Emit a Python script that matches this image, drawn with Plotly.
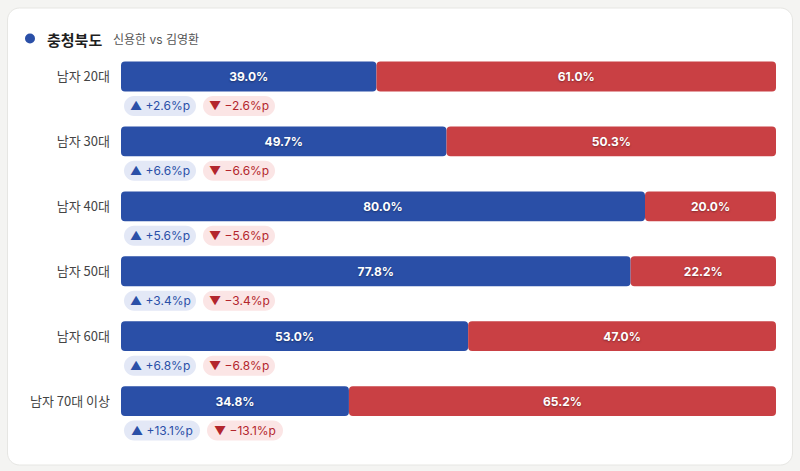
import plotly.graph_objects as go

categories = ["남자 20대", "남자 30대", "남자 40대", "남자 50대", "남자 60대", "남자 70대 이상"]
shin_values = [39.0, 49.7, 80.0, 77.8, 53.0, 34.8]
kim_values = [61.0, 50.3, 20.0, 22.2, 47.0, 65.2]
deltas = [2.6, 6.6, 5.6, 3.4, 6.8, 13.1]
title_text = "충청북도"
subtitle_text = "신용한 vs 김영환"

BLUE = "#2a4fa7"
RED = "#c94044"
FONT = "Inter, 'Noto Sans CJK KR'"
KFONT = "Noto Sans CJK KR"

W, H = 800, 471
L, R = 121, 776
ROW = 65.0
TOP = 76 - ROW / 2          # pixel of y = -0.5
YMAX = 6.0                  # extend range below last row so badges are not clipped
BOT = TOP + (YMAX + 0.5) * ROW

def px_x(p):
    return (p - L) / (R - L)

def px_y(p):
    return (BOT - p) / (BOT - TOP)

ys = list(range(len(categories)))

fig = go.Figure()
fig.add_trace(go.Bar(
    y=ys, x=[-v for v in shin_values], base=shin_values, orientation="h",
    width=0.46, marker=dict(color=BLUE, cornerradius=4, line=dict(width=0)),
    text=[f"{v:.1f}%" for v in shin_values], textposition="inside",
    insidetextanchor="middle",
    textfont=dict(color="white", size=12, family=FONT, weight="bold",
                  shadow="0px 1px 2px rgba(0,0,0,0.35)"),
    hoverinfo="skip", showlegend=False,
))
fig.add_trace(go.Bar(
    y=ys, x=kim_values, base=shin_values, orientation="h",
    width=0.46, marker=dict(color=RED, cornerradius=4, line=dict(width=0)),
    text=[f"{v:.1f}%" for v in kim_values], textposition="inside",
    insidetextanchor="middle",
    textfont=dict(color="white", size=12, family=FONT, weight="bold",
                  shadow="0px 1px 2px rgba(0,0,0,0.35)"),
    hoverinfo="skip", showlegend=False,
))

shapes = []
annotations = []

k = 0.5523
def rounded_rect(x0, x1, y0, y1, r):
    # y up positive; y0 bottom, y1 top
    return (f"M {x0+r},{y1} L {x1-r},{y1} "
            f"C {x1-r+k*r},{y1} {x1},{y1-r+k*r} {x1},{y1-r} "
            f"L {x1},{y0+r} "
            f"C {x1},{y0+r-k*r} {x1-r+k*r},{y0} {x1-r},{y0} "
            f"L {x0+r},{y0} "
            f"C {x0+r-k*r},{y0} {x0},{y0+r-k*r} {x0},{y0+r} "
            f"L {x0},{y1-r} "
            f"C {x0},{y1-r+k*r} {x0+r-k*r},{y1} {x0+r},{y1} Z")

# card background
shapes.append(dict(
    type="path", xref="paper", yref="paper", xsizemode="pixel", ysizemode="pixel",
    xanchor=0, yanchor=1,
    path=rounded_rect(7.5 - L, 792.5 - L, -(464.5 - TOP), TOP - 7.5, 12),
    fillcolor="white", line=dict(color="#e6e6e3", width=1), layer="below",
))

# title dot
shapes.append(dict(
    type="circle", xref="paper", yref="paper", xsizemode="pixel", ysizemode="pixel",
    xanchor=0, yanchor=1,
    x0=30 - 5 - L, x1=30 + 5 - L, y0=TOP - 38 - 5, y1=TOP - 38 + 5,
    fillcolor=BLUE, line=dict(width=0),
))
annotations.append(dict(
    xref="paper", yref="paper", x=px_x(45), y=px_y(38.5), xanchor="left", yanchor="middle",
    text=f"<b>{title_text}</b>", showarrow=False,
    font=dict(family=KFONT, size=15, color="#1f1f1f"),
))
annotations.append(dict(
    xref="paper", yref="paper", x=px_x(111), y=px_y(38.5), xanchor="left", yanchor="middle",
    text=subtitle_text, showarrow=False,
    font=dict(family=FONT, size=12, color="#555555"),
))

# badges
for i, d in enumerate(deltas):
    ds = f"{d:.1f}"
    w = 72 + 4 * (len(ds) - 3)
    bx0 = 3
    bx1 = bx0 + w
    rx0 = bx1 + 7
    rx1 = rx0 + w
    yc = i + 0.454
    for (a, b, fill) in [(bx0, bx1, "#e3e8f6"), (rx0, rx1, "#fbe5e5")]:
        shapes.append(dict(
            type="path", xref="x", yref="y", xsizemode="pixel", ysizemode="pixel",
            xanchor=0, yanchor=yc,
            path=rounded_rect(a, b, -10, 10, 10),
            fillcolor=fill, line=dict(width=0), layer="below",
        ))
    annotations.append(dict(
        xref="x", yref="y", x=0, y=yc, xshift=(bx0 + bx1) / 2, xanchor="center",
        yanchor="middle", text=f"▲ +{ds}%p", showarrow=False,
        font=dict(family=FONT, size=12, color="#2a4fa7"),
    ))
    annotations.append(dict(
        xref="x", yref="y", x=0, y=yc, xshift=(rx0 + rx1) / 2, xanchor="center",
        yanchor="middle", text=f"▼ −{ds}%p", showarrow=False,
        font=dict(family=FONT, size=12, color="#b3262d"),
    ))

fig.update_layout(
    width=W, height=H,
    margin=dict(l=L, r=W - R, t=TOP, b=H - BOT, pad=0),
    paper_bgcolor="#f4f4f2", plot_bgcolor="rgba(0,0,0,0)",
    barmode="overlay",
    shapes=shapes, annotations=annotations,
    font=dict(family=FONT),
    xaxis=dict(range=[0, 100], visible=False, fixedrange=True),
    yaxis=dict(range=[YMAX, -0.5], tickvals=ys, ticktext=categories,
               showgrid=False, zeroline=False, showline=False, ticks="",
               ticklabelstandoff=10,
               tickfont=dict(family=KFONT, size=13, color="#444444"), fixedrange=True),
)

fig.write_html("out.html", config={"displayModeBar": False},
               post_script="document.body.style.margin='0';")
